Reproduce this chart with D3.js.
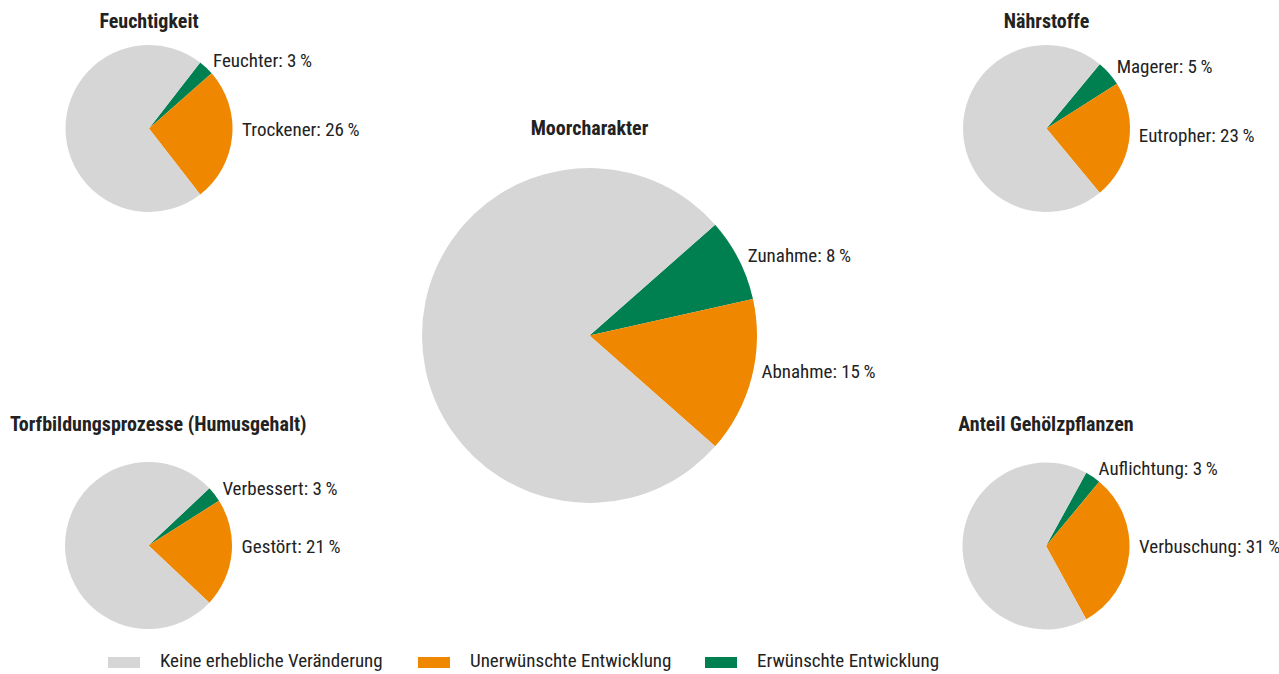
<!DOCTYPE html>
<html>
<head>
  <meta charset="utf-8">
  <script src="https://d3js.org/d3.v7.min.js"></script>
  <style>
    body { margin: 0; background: #fff; }
    svg text {
      font-family: "Liberation Sans Narrow", "Roboto Condensed", "DejaVu Sans Condensed", sans-serif;
      fill: #222;
    }
    .title { font-weight: bold; font-size: 20px; }
    .label { font-size: 19px; }
    .legend-text { font-size: 19px; }
  </style>
</head>
<body>
  <script>
    // Pie titles and values (percent)
    const titles = ["Feuchtigkeit", "Moorcharakter", "Nährstoffe",
      "Torfbildungsprozesse (Humusgehalt)", "Anteil Gehölzpflanzen"];
    const goodLabels = ["Feuchter", "Zunahme", "Magerer", "Verbessert", "Auflichtung"];
    const goodValues = [3, 8, 5, 3, 3];
    const badLabels = ["Trockener", "Abnahme", "Eutropher", "Gestört", "Verbuschung"];
    const badValues = [26, 15, 23, 21, 31];

    // Legend entries
    const legendLabels = ["Keine erhebliche Veränderung", "Unerwünschte Entwicklung", "Erwünschte Entwicklung"];
    const colors = ["#d6d6d6", "#ef8700", "#007f50"];

    // Where each pie sits
    const layout = [
      { cx: 149, cy: 128.5, r: 83.5, ty: 21 },
      { cx: 589.5, cy: 335.5, r: 167.5, ty: 128 },
      { cx: 1046.5, cy: 128.5, r: 83.5, ty: 21 },
      { cx: 148.5, cy: 545.5, r: 83.5, ty: 424 },
      { cx: 1046, cy: 546, r: 83.5, ty: 424 }
    ];

    const width = 1279, height = 674;

    const svg = d3.select("body")
      .append("svg")
      .attr("width", width)
      .attr("height", height);

    titles.forEach((title, i) => {
      const L = layout[i];
      const g = svg.append("g").attr("transform", `translate(${L.cx},${L.cy})`);

      const vals = [
        { key: "good", v: goodValues[i], label: goodLabels[i], color: colors[2] },
        { key: "bad", v: badValues[i], label: badLabels[i], color: colors[1] },
        { key: "none", v: 100 - goodValues[i] - badValues[i], color: colors[0] }
      ];
      // center the coloured slices on the right-hand side
      const span = (goodValues[i] + badValues[i]) / 100 * 2 * Math.PI;
      const start = Math.PI / 2 - span / 2;
      const pie = d3.pie().sort(null).value(d => d.v)
        .startAngle(start).endAngle(start + 2 * Math.PI);
      const arcs = pie(vals);

      g.selectAll("path")
        .data(arcs)
        .join("path")
        .attr("fill", d => d.data.color)
        .attr("d", d3.arc().innerRadius(0).outerRadius(L.r));

      const lr = L.r + 10;
      g.selectAll("text.label")
        .data(arcs.filter(d => d.data.label))
        .join("text")
        .attr("class", "label")
        .attr("x", d => lr * Math.sin((d.startAngle + d.endAngle) / 2))
        .attr("y", d => {
          const a = (d.startAngle + d.endAngle) / 2;
          return -lr * Math.cos(a) + (a > Math.PI / 2 ? -8 : 0);
        })
        .attr("dy", "0.35em")
        .text(d => `${d.data.label}: ${d.data.v}\u2009%`);

      const t = svg.append("text")
        .attr("class", "title")
        .attr("y", L.ty)
        .attr("dy", "0.35em")
        .attr("text-anchor", "middle")
        .text(title);
      const w = t.node().getComputedTextLength();
      t.attr("x", Math.max(10 + w / 2, L.cx));
    });

    // Legend
    const legendX = [108, 418, 705];
    const legend = svg.append("g");
    legendLabels.forEach((lab, i) => {
      legend.append("rect")
        .attr("x", legendX[i]).attr("y", 657)
        .attr("width", 32).attr("height", 11)
        .attr("fill", colors[i]);
      legend.append("text")
        .attr("class", "legend-text")
        .attr("x", legendX[i] + 52).attr("y", 660)
        .attr("dy", "0.35em")
        .text(lab);
    });
  </script>
</body>
</html>
